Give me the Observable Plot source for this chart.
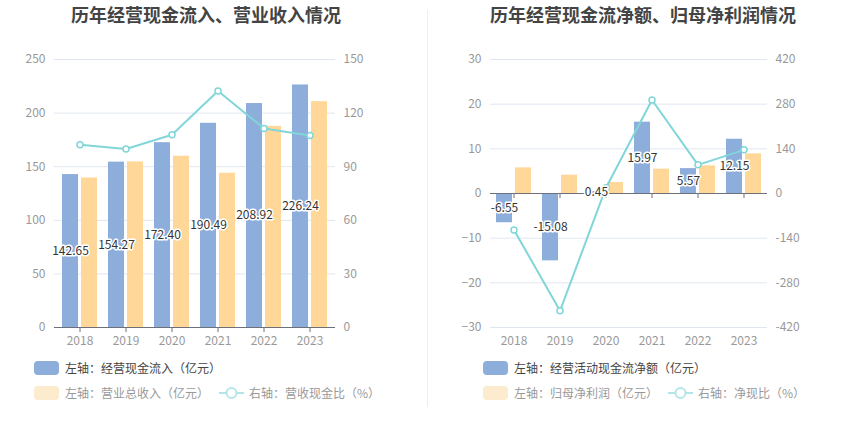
<!DOCTYPE html>
<html><head><meta charset="utf-8">
<script src="https://cdn.jsdelivr.net/npm/d3@7"></script>
<script src="https://cdn.jsdelivr.net/npm/@observablehq/plot@0.6"></script>
<style>
body{margin:0;background:#fff;font-family:"Noto Sans CJK SC","Noto Sans",sans-serif;}
#root{position:relative;width:850px;height:437px;overflow:hidden;background:#fff}
.title{position:absolute;top:3px;transform:translateX(-50%);font-size:18px;line-height:22px;font-weight:bold;color:#444;white-space:nowrap}
.chart{position:absolute;top:40px}
.leg{position:absolute;font-size:12px;line-height:14px;display:flex;align-items:center;white-space:nowrap}
.sw{width:25px;height:14px;border-radius:4px;margin-right:6px}
.sep{position:absolute;left:427px;top:10px;width:1px;height:397px;background:#eee}
</style></head>
<body><div id="root"></div>
<script>
const years = ["2018","2019","2020","2021","2022","2023"];
// left chart
const cashInflow = [142.65,154.27,172.40,190.49,208.92,226.24];
const revenue = [139.5,154.5,159.8,143.9,187.6,210.7];
const cashRevRatio = [102.3,99.9,107.9,132.4,111.4,107.4];
const leftTicksL = [0,50,100,150,200,250];
const leftTicksR = [0,30,60,90,120,150];
// right chart
const netCashFlow = [-6.55,-15.08,0.45,15.97,5.57,12.15];
const netProfit = [5.74,4.10,2.47,5.45,6.20,8.88];
const netCashRatio = [-114.1,-367.8,18.2,293.0,89.8,136.8];
const rightTicksL = [-30,-20,-10,0,10,20,30];
const rightTicksR = [-420,-280,-140,0,140,280,420];

const BLUE = "#8DADDB", ORANGE = "#FFD899", TEAL = "#80D6D8";
const FONT = '"Noto Sans CJK SC","Noto Sans",sans-serif';

function chart(opts) {
  const {rows, domL, ticksL, ticksR, mL, mR, barA, barB, ratio} = opts;
  const k = (domL[1] - domL[0]) / (ticksR[ticksR.length-1] - ticksR[0]);
  return Plot.plot({
    width: 425, height: 317, marginTop: 19, marginBottom: 30, marginLeft: mL, marginRight: mR,
    style: {fontFamily: FONT, fontSize: "12px", color: "#999", background: "transparent"},
    x: {domain: years, paddingInner: 0.25, paddingOuter: 0.125, axis: null},
    y: {domain: domL, axis: null},
    marks: [
      Plot.gridY(ticksL.filter(d => d !== 0), {stroke: "#E0E6F1", strokeOpacity: 1}),
      Plot.axisY(ticksL, {anchor: "left", tickSize: 0, tickPadding: 9, label: null, color: "#999"}),
      Plot.axisY(ticksL, {anchor: "right", tickSize: 0, tickPadding: 8, label: null, color: "#999",
        tickFormat: d => String(Math.round(ticksR[0] + (d - domL[0]) / k))}),
      Plot.axisX(years, {anchor: "bottom", tickSize: 0, tickPadding: 9, label: null, color: "#999"}),
      Plot.barY(rows, {x: "year", y: barA, fill: BLUE, insetRight: 19}),
      Plot.barY(rows, {x: "year", y: barB, fill: ORANGE, insetLeft: 19}),
      Plot.ruleY([0], {stroke: "#6E7079"}),
      Plot.ruleX(rows, {x: "year", y1: 0, y2: 0, insetTop: 5, stroke: "#6E7079"}),
      Plot.line(rows, {x: "year", y: d => domL[0] + (d[ratio] - ticksR[0]) * k, stroke: TEAL, strokeWidth: 2}),
      Plot.dot(rows, {x: "year", y: d => domL[0] + (d[ratio] - ticksR[0]) * k, r: 3, fill: "white", stroke: TEAL, strokeWidth: 1.5}),
      Plot.text(rows, {x: "year", y: d => d[barA] / 2, text: d => d[barA].toFixed(2), dx: -9.5,
        fill: "#333", stroke: "white", strokeWidth: 3, fontSize: 12})
    ]
  });
}

const rowsL = years.map((y, i) => ({year: y, a: cashInflow[i], b: revenue[i], r: cashRevRatio[i]}));
const rowsR = years.map((y, i) => ({year: y, a: netCashFlow[i], b: netProfit[i], r: netCashRatio[i]}));

const root = document.getElementById("root");
function el(tag, cls, style, html) {
  const e = document.createElement(tag);
  if (cls) e.className = cls;
  if (style) e.setAttribute("style", style);
  if (html != null) e.innerHTML = html;
  root.appendChild(e);
  return e;
}
el("div", "title", "left:206px", "历年经营现金流入、营业收入情况");
el("div", "title", "left:643px", "历年经营现金流净额、归母净利润情况");
el("div", "sep");

const c1 = chart({rows: rowsL, domL: [0,250], ticksL: leftTicksL, ticksR: leftTicksR, mL: 54, mR: 90, barA: "a", barB: "b", ratio: "r"});
const w1 = el("div", "chart", "left:0px"); w1.appendChild(c1);
const c2 = chart({rows: rowsR, domL: [-30,30], ticksL: rightTicksL, ticksR: rightTicksR, mL: 65, mR: 83, barA: "a", barB: "b", ratio: "r"});
const w2 = el("div", "chart", "left:425px"); w2.appendChild(c2);

const lineSym = '<svg width="25" height="14" style="margin-right:5px"><line x1="0" y1="7" x2="25" y2="7" stroke="#B3E6E8" stroke-width="2"/><circle cx="12.5" cy="7" r="5" fill="white" stroke="#B3E6E8" stroke-width="2"/></svg>';
function legend(x, y, swColor, text, color) {
  el("div", "leg", `left:${x}px;top:${y}px;color:${color}`, `<div class="sw" style="background:${swColor}"></div>${text}`);
}
function legendLine(x, y, text) {
  el("div", "leg", `left:${x}px;top:${y}px;color:#999`, lineSym + text);
}
legend(34, 361, BLUE, "左轴：经营现金流入（亿元）", "#444");
legend(34, 386, "#FDEBCD", "左轴：营业总收入（亿元）", "#999");
legendLine(219, 386, "右轴：营收现金比（%）");
legend(483, 361, BLUE, "左轴：经营活动现金流净额（亿元）", "#444");
legend(483, 386, "#FDEBCD", "左轴：归母净利润（亿元）", "#999");
legendLine(668, 386, "右轴：净现比（%）");
</script></body></html>
